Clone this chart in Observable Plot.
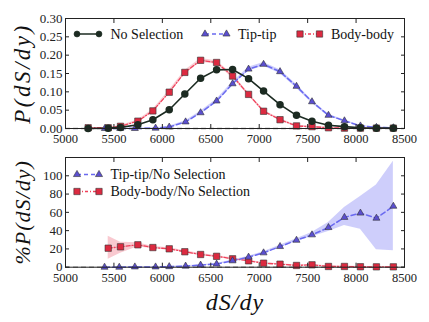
<!DOCTYPE html>
<html><head><meta charset="utf-8">
<script src="https://cdn.jsdelivr.net/npm/d3@7"></script>
<script src="https://cdn.jsdelivr.net/npm/@observablehq/plot@0.6"></script>
<style>
body{margin:0;background:#fff;}
#wrap{position:relative;width:429px;height:322px;font-family:"Liberation Serif",serif;}
#wrap > div, #wrap > svg{position:absolute;left:0;}
#wrap svg, #wrap svg text{font-family:"Liberation Serif",serif !important;}
</style></head>
<body><div id="wrap"></div>
<script>
// ---- top panel data: P(dS/dy)
const noSelX = [5234,5441,5568,5747,5902,6071,6232,6395,6560,6725,6890,7045,7215,7385,7545,7715,7880,8045,8210,8385];
const noSelY = [0.000,0.001,0.003,0.010,0.024,0.051,0.094,0.137,0.160,0.161,0.136,0.102,0.065,0.036,0.020,0.009,0.005,0.002,0.001,0.001];
const bodyX = [5234,5441,5568,5747,5902,6071,6232,6395,6560,6725,6890,7045,7215,7385,7545,7715,7880,8045,8210,8385];
const bodyY = [0.002,0.002,0.006,0.020,0.048,0.099,0.153,0.186,0.180,0.143,0.093,0.047,0.024,0.007,0.005,0.002,0.001,0.001,0.001,0.001];
const bodyErr = [0.001,0.001,0.002,0.003,0.004,0.005,0.005,0.005,0.005,0.005,0.004,0.003,0.003,0.002,0.002,0.001,0.001,0.001,0.001,0.001];
const tipX = [5406,5565,5716,5930,6071,6240,6395,6560,6725,6890,7045,7215,7385,7545,7715,7880,8045,8210,8385];
const tipY = [0.000,0.000,0.000,0.001,0.004,0.018,0.043,0.075,0.122,0.162,0.175,0.155,0.115,0.073,0.036,0.021,0.007,0.003,0.002];
const tipErr = [0.001,0.001,0.001,0.001,0.002,0.003,0.004,0.005,0.005,0.005,0.005,0.005,0.005,0.004,0.003,0.002,0.001,0.001,0.001];
// ---- bottom panel data: %P ratios
const tipRX = [5403,5555,5716,5930,6071,6240,6395,6560,6725,6890,7045,7215,7385,7545,7715,7880,8045,8210,8385];
const tipRY = [0.0,0.0,0.3,0.3,0.6,1.2,2.3,3.4,7.0,11.0,15.7,22.6,29.5,35.4,43.4,54.5,59.2,53.6,66.7];
const tipRLo = [0,0,0.1,0.1,0.3,0.8,1.8,2.8,6.2,10.1,14.6,21.3,28.0,33.2,39.0,45.6,41.5,19.0,17.9];
const tipRHi = [0.3,0.3,0.6,0.6,1.0,1.6,2.8,4.0,7.8,11.9,16.8,24.0,31.0,37.9,48.8,65.2,77.3,90.0,116.0];
const bodyRX = [5441,5568,5747,5902,6071,6232,6395,6560,6725,6890,7045,7215,7385,7545,7715,7880,8045,8210,8385];
const bodyRY = [20.8,22.3,24.5,21.5,20.1,16.9,13.9,11.9,9.2,7.0,4.4,3.3,1.9,2.6,0.8,0.8,0.5,0.4,0.4];
const bodyRLo = [8.7,15.3,22.3,20.3,19.0,15.9,12.9,10.9,8.3,6.2,3.8,2.7,1.4,1.9,0.4,0.4,0.2,0.1,0.1];
const bodyRHi = [33.9,27.3,26.7,22.7,21.2,17.9,14.9,12.9,10.1,7.8,5.0,3.9,2.4,3.3,1.2,1.2,0.8,0.7,0.7];
const xTicks = [5000,5500,6000,6500,7000,7500,8000,8500];
const yTicksTop = [0,0.05,0.10,0.15,0.20,0.25,0.30];
const yTicksBot = [0,20,40,60,80,100];
const topLegend = ["No Selection","Tip-tip","Body-body"];
const botLegend = ["Tip-tip/No Selection","Body-body/No Selection"];

const C = {black:"#1c2b22", blueLine:"#6a6af0", blueFill:"#5b4fd0", blueBand:"#c9c9fb",
           redLine:"#f0405a", redFill:"#dc2a40", redBand:"#f8c0c8", edge:"#333"};
const zip = (xs, ys, ...more) => xs.map((x,i)=>({x, y: ys[i], a: more[0]?more[0][i]:null, b: more[1]?more[1][i]:null}));

const fontFam = "Liberation Serif, serif";
function frameAxes(yTicks, fmt){
  return [
    Plot.frame({stroke:"#222", strokeWidth:1}),
    Plot.axisX(xTicks, {anchor:"bottom", label:null, tickSize:-4, tickPadding:10, fontSize:12.5, tickFormat:d=>String(d)}),
    Plot.axisX(xTicks, {anchor:"top", label:null, tickSize:-4, tickFormat:()=>""}),
    Plot.axisY(yTicks, {anchor:"left", label:null, tickSize:-4, tickPadding:7, fontSize:13, tickFormat:fmt}),
    Plot.axisY(yTicks, {anchor:"right", label:null, tickSize:-4, tickFormat:()=>""}),
  ];
}

const topChart = Plot.plot({
  width:429, height:145, marginLeft:65, marginRight:25, marginTop:18, marginBottom:17,
  style:{fontFamily:fontFam, color:"#222", background:"transparent", overflow:"visible"},
  x:{domain:[5000,8500]}, y:{domain:[0,0.30]},
  marks:[
    Plot.ruleY([0], {stroke:"#999", strokeWidth:1.5, strokeDasharray:"5,3"}),
    Plot.areaY(zip(bodyX, bodyY, bodyErr), {x:"x", y1:d=>Math.max(0,d.y-d.a), y2:d=>d.y+d.a, fill:C.redBand, fillOpacity:0.8}),
    Plot.areaY(zip(tipX, tipY, tipErr), {x:"x", y1:d=>Math.max(0,d.y-d.a), y2:d=>d.y+d.a, fill:C.blueBand, fillOpacity:0.9}),
    Plot.line(zip(bodyX, bodyY), {x:"x", y:"y", stroke:C.redLine, strokeWidth:1.3, strokeDasharray:"4,2,1,2"}),
    Plot.line(zip(tipX, tipY), {x:"x", y:"y", stroke:C.blueLine, strokeWidth:1.5, strokeDasharray:"5,3"}),
    Plot.line(zip(noSelX, noSelY), {x:"x", y:"y", stroke:C.black, strokeWidth:1.6}),
    Plot.dot(zip(bodyX, bodyY), {x:"x", y:"y", symbol:"square", r:3.6, fill:C.redFill, stroke:C.edge, strokeWidth:0.6}),
    Plot.dot(zip(tipX, tipY), {x:"x", y:"y", symbol:"triangle", r:2.6, fill:C.blueFill, stroke:C.edge, strokeWidth:0.6}),
    Plot.dot(zip(noSelX, noSelY), {x:"x", y:"y", symbol:"circle", r:3, fill:C.black, stroke:C.black}),
    ...frameAxes(yTicksTop, d=>d.toFixed(2)),
    Plot.text(["P(dS/dy)"], {frameAnchor:"left", textAnchor:"middle", lineAnchor:"middle", dx:-43, rotate:-90, fontSize:23, fontStyle:"italic", fill:"#111", className:"ttl1"})
  ]
});

const botChart = Plot.plot({
  width:429, height:177, marginLeft:65, marginRight:25, marginTop:12, marginBottom:55.3,
  style:{fontFamily:fontFam, color:"#222", background:"transparent", overflow:"visible"},
  x:{domain:[5000,8500]}, y:{domain:[0,120]},
  marks:[
    Plot.ruleY([0], {stroke:"#999", strokeWidth:1.5, strokeDasharray:"5,3"}),
    Plot.areaY(zip(bodyRX, bodyRY, bodyRLo, bodyRHi), {x:"x", y1:"a", y2:"b", fill:C.redBand, fillOpacity:0.85}),
    Plot.areaY(zip(tipRX, tipRY, tipRLo, tipRHi), {x:"x", y1:"a", y2:"b", fill:C.blueBand, fillOpacity:0.9}),
    Plot.line(zip(bodyRX, bodyRY), {x:"x", y:"y", stroke:C.redLine, strokeWidth:1.3, strokeDasharray:"4,2,1,2"}),
    Plot.line(zip(tipRX, tipRY), {x:"x", y:"y", stroke:C.blueLine, strokeWidth:1.5, strokeDasharray:"5,3"}),
    Plot.dot(zip(bodyRX, bodyRY), {x:"x", y:"y", symbol:"square", r:3.6, fill:C.redFill, stroke:C.edge, strokeWidth:0.6}),
    Plot.dot(zip(tipRX, tipRY), {x:"x", y:"y", symbol:"triangle", r:2.6, fill:C.blueFill, stroke:C.edge, strokeWidth:0.6}),
    ...frameAxes(yTicksBot, d=>String(d)),
    Plot.text(["%P(dS/dy)"], {frameAnchor:"left", textAnchor:"middle", lineAnchor:"middle", dx:-43, rotate:-90, fontSize:22, fontStyle:"italic", fill:"#111", className:"ttl2"}),
    Plot.text(["dS/dy"], {frameAnchor:"bottom", textAnchor:"middle", lineAnchor:"middle", dy:35, fontSize:24, fontStyle:"italic", fill:"#111", className:"ttl3"})
  ]
});

const wrap = document.getElementById("wrap");
topChart.style.top = "0px"; botChart.style.top = "145px";
wrap.appendChild(topChart); wrap.appendChild(botChart);
d3.selectAll(".ttl1 text").style("letter-spacing","2.5px");
d3.selectAll(".ttl2 text").style("letter-spacing","1px");
d3.selectAll(".ttl3 text").style("letter-spacing","1px");

// legends (overlay)
const svg = d3.select(wrap).append("svg").attr("width",429).attr("height",322).style("top","0px");
function entry(g, x0, x1, y, kind, label){
  const spec = {
    black:{stroke:C.black, dash:null, sym:d3.symbolCircle, size:28, fill:C.black},
    blue:{stroke:C.blueLine, dash:"4,3", sym:d3.symbolTriangle, size:22, fill:C.blueFill},
    red:{stroke:C.redLine, dash:"3,2,1,2", sym:d3.symbolSquare, size:40, fill:C.redFill}
  }[kind];
  g.append("line").attr("x1",x0).attr("x2",x1).attr("y1",y).attr("y2",y)
    .attr("stroke",spec.stroke).attr("stroke-width",1.5).attr("stroke-dasharray",spec.dash);
  [x0,x1].forEach(x=>g.append("path").attr("d",d3.symbol(spec.sym, spec.size)())
    .attr("transform",`translate(${x},${y})`).attr("fill",spec.fill).attr("stroke",kind==="black"?C.black:C.edge).attr("stroke-width",0.6));
  g.append("text").attr("x",x1+11.5).attr("y",y).attr("dy","0.35em").attr("font-size",14)
    .attr("fill","#111").text(label);
}
entry(svg, 77, 99, 34, "black", topLegend[0]);
entry(svg, 205, 226.5, 34, "blue", topLegend[1]);
entry(svg, 300, 319.5, 34, "red", topLegend[2]);
entry(svg, 77, 99, 174.5, "blue", botLegend[0]);
entry(svg, 77, 99, 191.5, "red", botLegend[1]);
</script></body></html>
